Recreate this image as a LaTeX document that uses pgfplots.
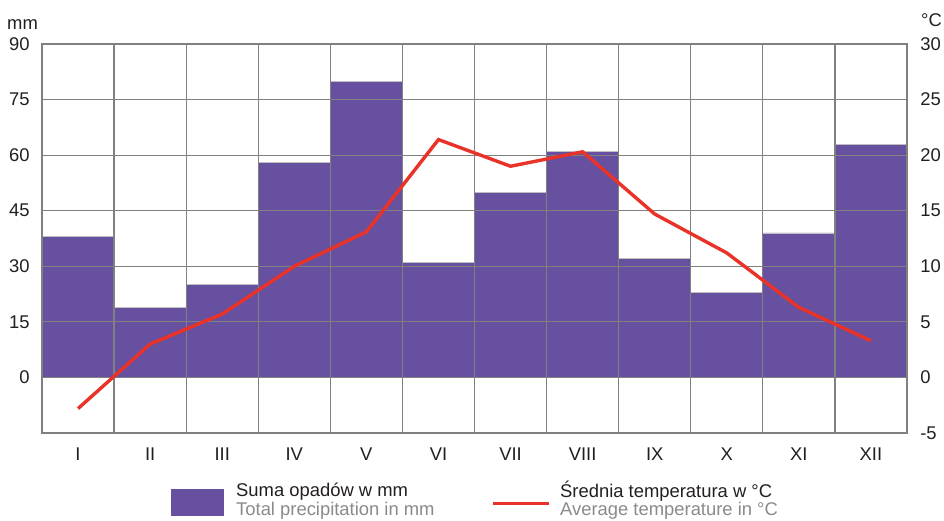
\documentclass[border=0pt]{standalone}
\usepackage{pgfplots}
\pgfplotsset{compat=1.18}
\usepackage{fontspec}
\setmainfont{Liberation Sans}

\definecolor{rain}{RGB}{103,80,160}
\definecolor{temp}{RGB}{233,50,40}
\definecolor{gridc}{RGB}{128,128,128}
\definecolor{txt}{RGB}{35,31,32}
\definecolor{txtgray}{RGB}{138,138,138}

\pgfplotstableread{
m  rain  temp
1  38.0  -2.8
2  19.0   3.0
3  25.0   5.7
4  58.0  10.0
5  80.0  13.1
6  31.0  21.4
7  50.0  19.0
8  61.0  20.3
9  32.0  14.7
10 23.0  11.2
11 39.0   6.3
12 63.0   3.3
}\climate

\begin{document}
\fontsize{18.4}{22}\selectfont
\begin{tikzpicture}
\pgfplotsset{
  base/.style={
    scale only axis, width=865pt, height=389pt,
    at={(0,0)}, anchor=south west,
    xmin=0.5, xmax=12.5,
    tick style={draw=none},
    /pgf/number format/assume math mode=true,
    ticklabel style={font=\fontsize{18.4}{22}\selectfont, text=txt},
  },
}
% bounding box = 944x521 px picture
\path[use as bounding box] (-42pt,-88pt) rectangle (902pt,433pt);

\begin{axis}[base, name=ax,
  ymin=-15, ymax=90,
  xtick={1,...,12},
  xticklabels={I,II,III,IV,V,VI,VII,VIII,IX,X,XI,XII},
  minor xtick={1.5,2.5,...,11.5},
  xminorgrids,
  ytick={0,15,...,90},
  ymajorgrids,
  axis on top,
  grid style={gridc, line width=1.2pt},
  minor grid style={gridc, line width=1.2pt},
  axis line style={gridc, line width=1.2pt},
  xticklabel style={yshift=-9pt},
  yticklabel style={xshift=-6pt},
]
\addplot[ybar, bar width=1, bar shift=0pt, fill=rain, draw=black!25, line width=0.8pt]
  table[x=m, y=rain] {\climate};
\end{axis}

\begin{axis}[base,
  ymin=-5, ymax=30,
  hide x axis,
  axis y line*=right,
  y axis line style={draw=none},
  ytick={-5,0,...,30},
  yticklabel style={anchor=west, xshift=7pt},
]
\addplot[temp, line width=3.4pt, line join=miter]
  table[x=m, y=temp] {\climate};
\end{axis}

% axis units
\node[anchor=base west, text=txt, inner sep=0pt] at (-35pt,403pt) {mm};
\node[anchor=base west, text=txt, inner sep=0pt] at (879pt,406pt) {°C};

% legend
\fill[rain] (129pt,-56pt) rectangle (182pt,-83pt);
\node[anchor=base west, text=txt, inner sep=0pt] at (194pt,-64pt) {Suma opadów w mm};
\node[anchor=base west, text=txtgray, inner sep=0pt] at (194pt,-83pt) {Total precipitation in mm};
\draw[temp, line width=3.4pt] (451pt,-70.3pt) -- (507pt,-70.3pt);
\node[anchor=base west, text=txt, inner sep=0pt] at (518pt,-64.3pt) {Średnia temperatura w °C};
\node[anchor=base west, text=txtgray, inner sep=0pt] at (518pt,-83pt) {Average temperature in °C};
\end{tikzpicture}
\end{document}
